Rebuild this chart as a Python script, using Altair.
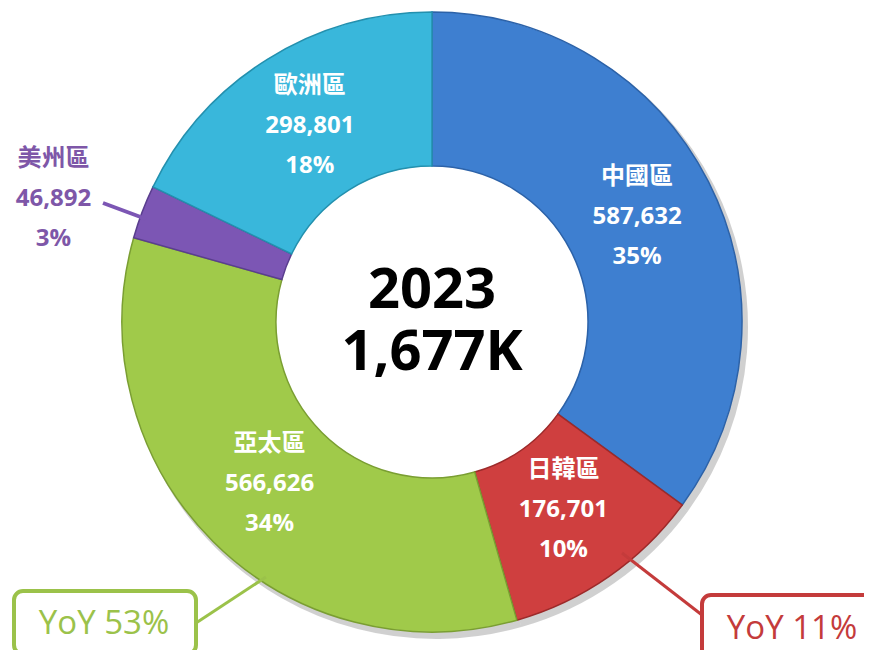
import altair as alt
import pandas as pd

regions = ["中國區", "日韓區", "亞太區", "美州區", "歐洲區"]
values = [587632, 176701, 566626, 46892, 298801]
pct_labels = ["35%", "10%", "34%", "3%", "18%"]
fill_colors = ["#3E7FD0", "#CF3F3F", "#A0CA4A", "#7C56B4", "#39B7DB"]
edge_colors = ["#2C62A8", "#9C2A2A", "#7A9E32", "#5A3E8E", "#2390AE"]
year_label = "2023"
yoy_labels = ["YoY 53%", "YoY 11%"]

total = sum(values)
df = pd.DataFrame({
    "region": regions,
    "value": values,
    "idx": list(range(len(regions))),
    "label": [f"{r}\n{v:,}\n{p}" for r, v, p in zip(regions, values, pct_labels)],
})

W, H = 856, 642
CX, CY = 424, 314
R_OUT, R_IN = 310, 156
FONT = "Open Sans, Noto Sans CJK TC, sans-serif"

base = alt.Chart(df).encode(
    theta=alt.Theta("value:Q", stack=True),
    order=alt.Order("idx:Q"),
    x=alt.value(CX),
    y=alt.value(CY),
)

shadow = alt.Chart(df).mark_arc(
    outerRadius=R_OUT + 2, innerRadius=R_IN + 10, color="#777777", opacity=0.35
).encode(
    theta=alt.Theta("value:Q", stack=True),
    order=alt.Order("idx:Q"),
    x=alt.value(CX + 4),
    y=alt.value(CY + 5),
)

arcs = base.mark_arc(outerRadius=R_OUT, innerRadius=R_IN, strokeWidth=1.5).encode(
    color=alt.Color("region:N", scale=alt.Scale(domain=regions, range=fill_colors), legend=None),
    stroke=alt.Stroke("region:N", scale=alt.Scale(domain=regions, range=edge_colors), legend=None),
)

inner_labels = base.mark_text(
    radius=230, dy=-41, font=FONT, fontSize=24, fontWeight="bold", lineBreak="\n",
    lineHeight=40, baseline="middle", align="center", color="white",
).encode(
    text="label:N",
    opacity=alt.condition(alt.datum.region == "美州區", alt.value(0), alt.value(1)),
)

outer_labels = base.mark_text(
    radius=405, dy=-19, font=FONT, fontSize=24, fontWeight="bold", lineBreak="\n",
    lineHeight=40, baseline="middle", align="center", color="#7E57A8",
).encode(
    text="label:N",
    opacity=alt.condition(alt.datum.region == "美州區", alt.value(1), alt.value(0)),
)

center_df = pd.DataFrame({"txt": [f"{year_label}\n{round(total/1000):,}K"]})
center = alt.Chart(center_df).mark_text(
    font=FONT, fontSize=56, fontWeight="bold", color="black", baseline="middle",
    align="center", lineBreak="\n", lineHeight=62,
).encode(
    text="txt:N",
    x=alt.value(CX),
    y=alt.value(CY - 31),
)

# connector lines and callout boxes (annotations)
one = pd.DataFrame({"a": [0]})
purple_line = alt.Chart(one).mark_rule(color="#7C56B4", strokeWidth=4).encode(
    x=alt.value(95), x2=alt.value(138), y=alt.value(195), y2=alt.value(211))
green_line = alt.Chart(one).mark_rule(color="#9BC24A", strokeWidth=3).encode(
    x=alt.value(188), x2=alt.value(258), y=alt.value(615), y2=alt.value(569))
red_line = alt.Chart(one).mark_rule(color="#C43B3B", strokeWidth=3).encode(
    x=alt.value(614), x2=alt.value(694), y=alt.value(545), y2=alt.value(607))

green_box = alt.Chart(one).mark_rect(
    fill="white", stroke="#9BC24A", strokeWidth=4, cornerRadius=9).encode(
    x=alt.value(6), x2=alt.value(188), y=alt.value(583), y2=alt.value(646))
red_box = alt.Chart(one).mark_rect(
    fill="white", stroke="#C43B3B", strokeWidth=4, cornerRadius=9).encode(
    x=alt.value(694), x2=alt.value(880), y=alt.value(587), y2=alt.value(652))

green_text = alt.Chart(one).mark_text(
    text=yoy_labels[0], font=FONT, fontSize=33, color="#9BC24A", baseline="middle", align="center"
).encode(x=alt.value(96), y=alt.value(616))
red_text = alt.Chart(one).mark_text(
    text=yoy_labels[1], font=FONT, fontSize=33, color="#C43B3B", baseline="middle", align="center"
).encode(x=alt.value(784), y=alt.value(621))

chart = alt.layer(
    shadow, arcs, inner_labels, outer_labels, center,
    purple_line, green_line, red_line, green_box, red_box, green_text, red_text,
).properties(
    width=W, height=H, autosize=alt.AutoSizeParams(type="none"), padding=0,
).configure_view(stroke=None).resolve_scale(theta="shared")

chart.save("out.html", embed_options={"renderer": "svg", "actions": False})
